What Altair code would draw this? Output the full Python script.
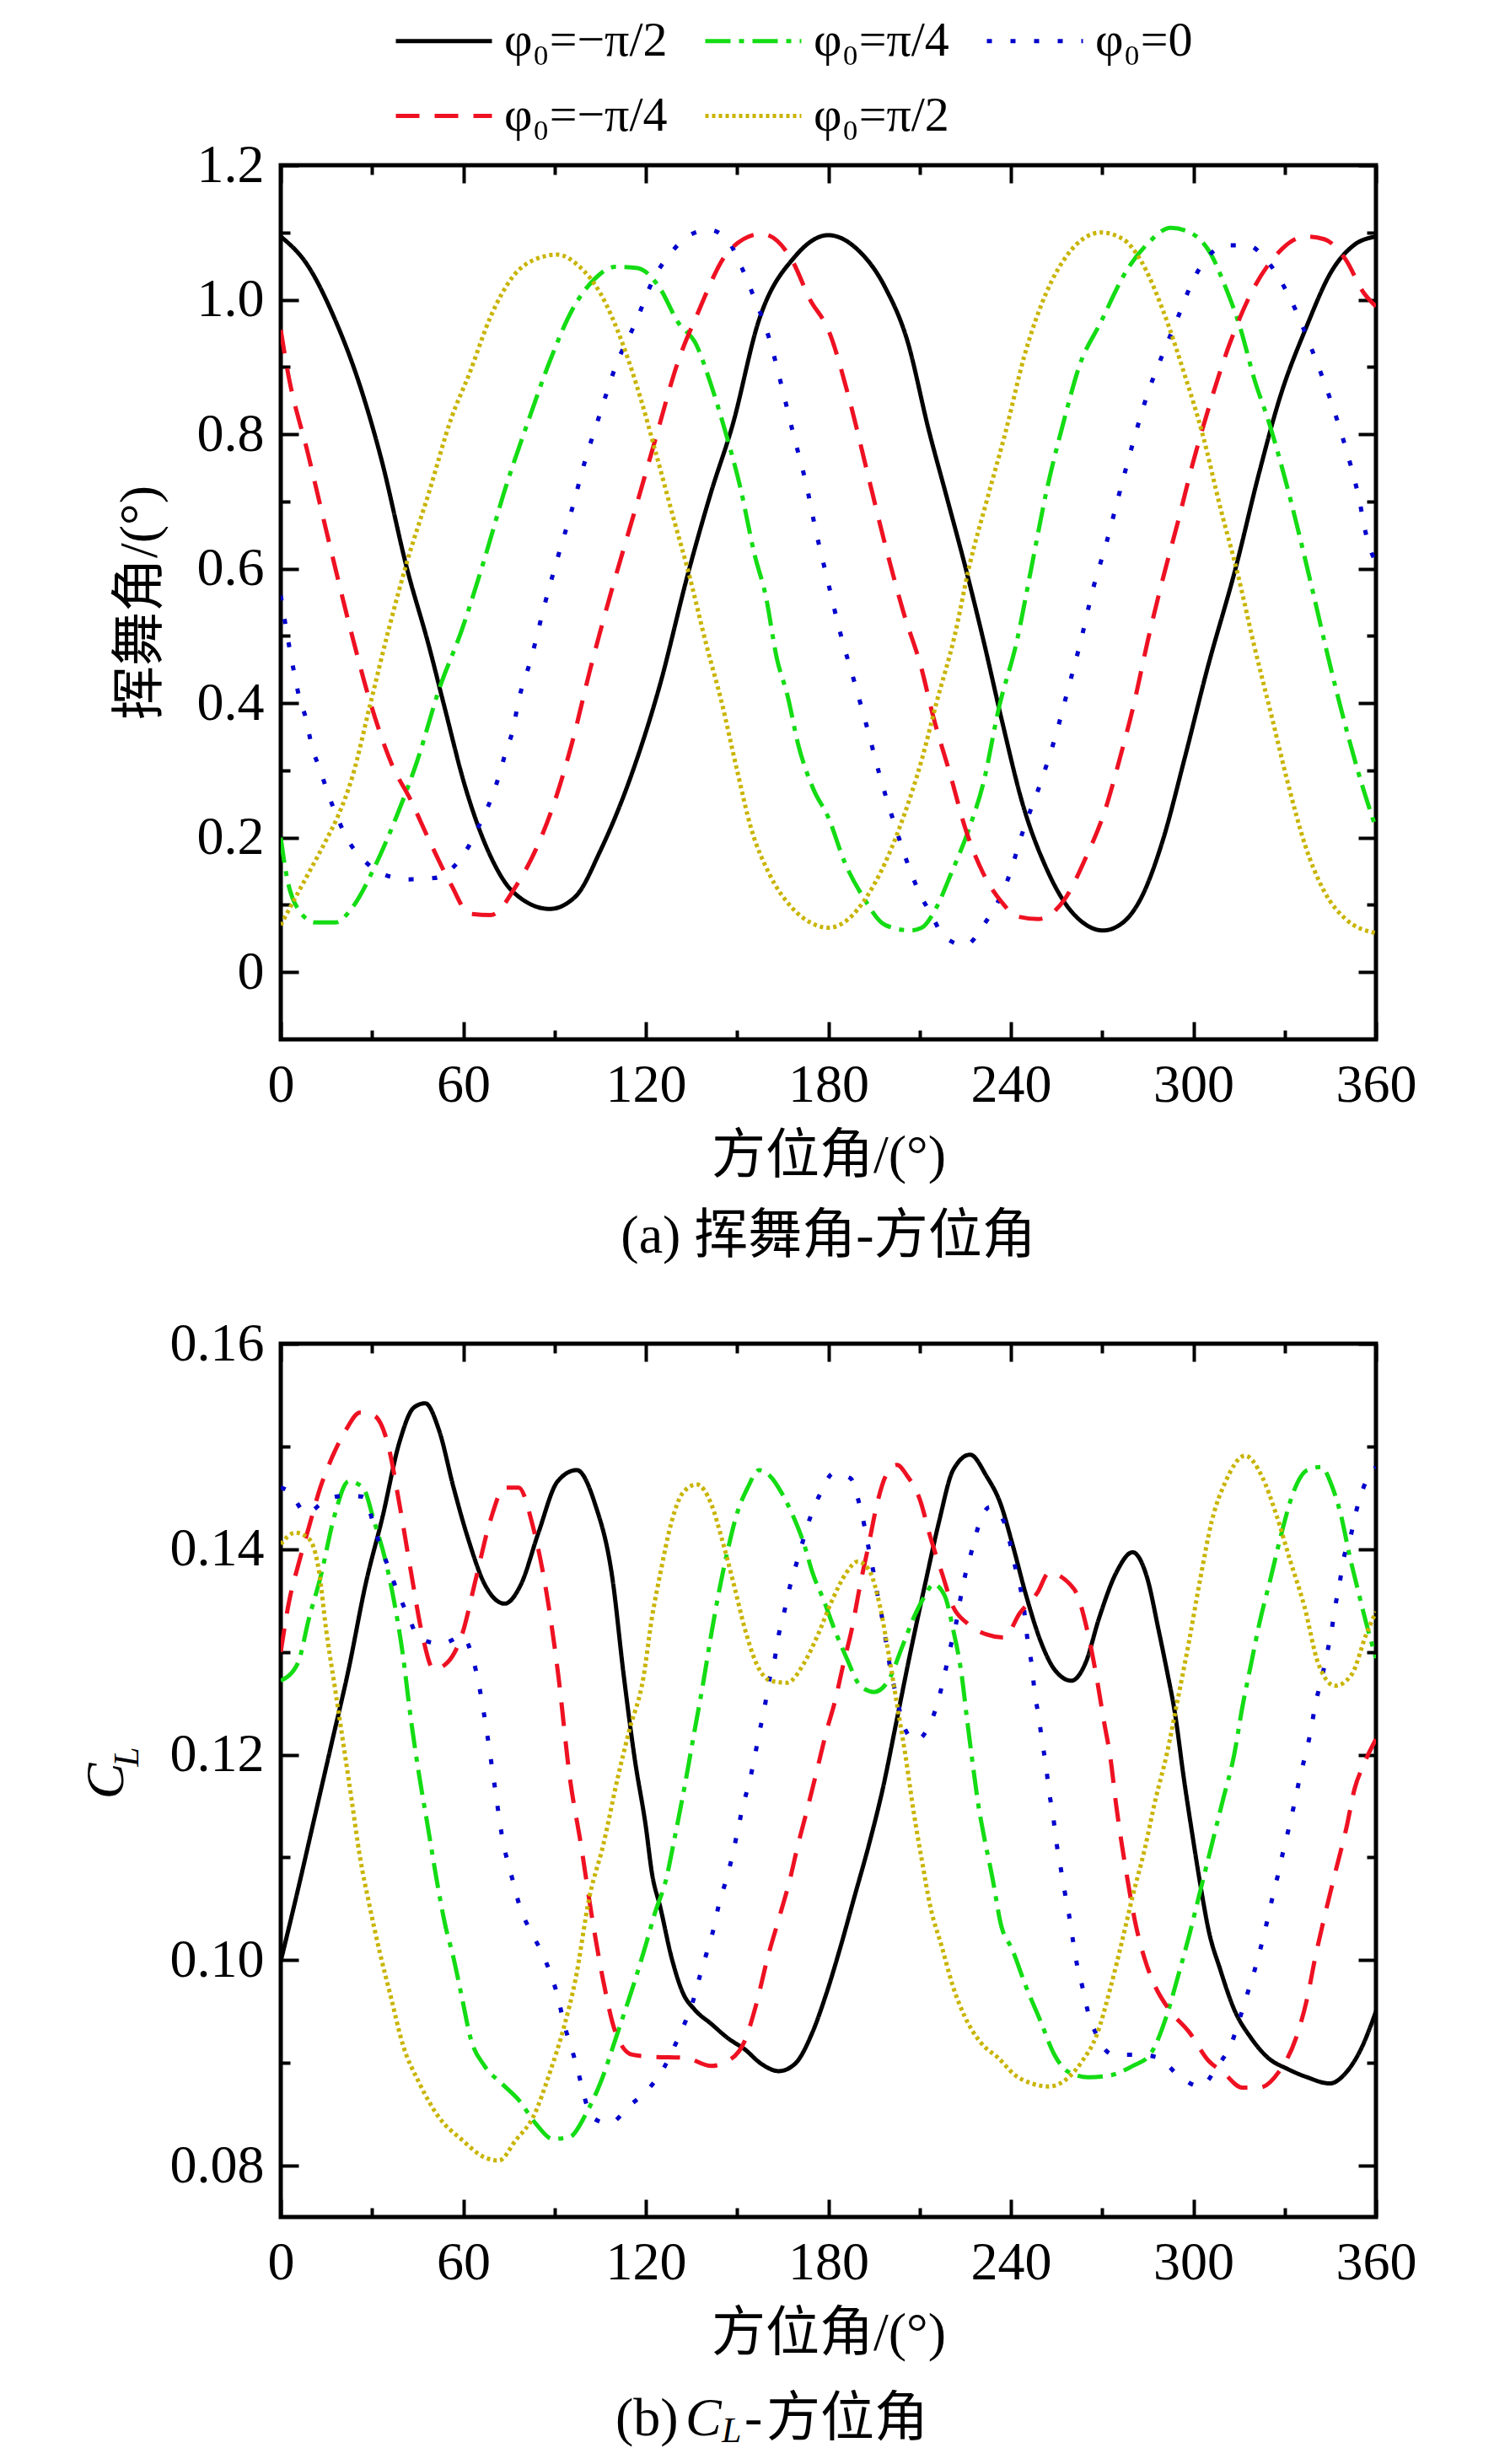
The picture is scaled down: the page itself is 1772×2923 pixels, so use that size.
import altair as alt
import pandas as pd

SERIES = ["φ₀=−π/2", "φ₀=π/4", "φ₀=0", "φ₀=−π/4", "φ₀=π/2"]
COLORS = ["#000000", "#14dc14", "#0000cc", "#ee1122", "#c8b400"]
DASHES = [[1, 0], [30, 10, 6, 10], [6, 22], [28, 18], [4, 4]]
# legend is filled column by column: column 1 = −π/2, −π/4; column 2 = π/4, π/2; column 3 = 0
LEGEND_ORDER = ["φ₀=−π/2", "φ₀=−π/4", "φ₀=π/4", "φ₀=π/2", "φ₀=0"]

X_MAJOR = [0, 60, 120, 180, 240, 300, 360]
X_MINOR = [30, 90, 150, 210, 270, 330]
FLAP_MAJOR = [0, 0.2, 0.4, 0.6, 0.8, 1.0, 1.2]
FLAP_MINOR = [0.1, 0.3, 0.5, 0.7, 0.9, 1.1]
CL_MAJOR = [0.08, 0.10, 0.12, 0.14, 0.16]
CL_MINOR = [0.09, 0.11, 0.13, 0.15]
FLAP_DOMAIN = [-0.1, 1.2]
CL_DOMAIN = [0.075, 0.16]

X_TITLE = "方位角/(°)"
FLAP_TITLE = "挥舞角/(°)"
SUB_A = "(a) 挥舞角-方位角"
SUB_B = ["(b)", "C", "L", "-", "方位角"]

# ---- (a) flapping angle vs azimuth: (azimuth deg, value) ----
FLAP_M90 = [(0, 1.094), (9, 1.05), (17.4, 0.975), (25.9, 0.874), (33, 0.764), (41.5, 0.60),
            (48.7, 0.485), (53.5, 0.40), (60.8, 0.273), (69, 0.172), (76, 0.121), (88.4, 0.094),
            (97, 0.113), (105, 0.18), (115, 0.29), (124.5, 0.425), (134, 0.595), (141.4, 0.713),
            (148.6, 0.815), (157, 0.967), (169, 1.064), (180, 1.096), (189, 1.077), (198.7, 1.018),
            (205.9, 0.94), (213, 0.806), (219, 0.705), (225, 0.603), (231, 0.493), (237, 0.375),
            (244, 0.248), (251.6, 0.155), (257.6, 0.104), (263.6, 0.074), (270.3, 0.062),
            (276.9, 0.074), (283, 0.112), (290, 0.197), (297, 0.316), (304.5, 0.45), (314, 0.603),
            (321.4, 0.739), (328.6, 0.857), (337, 0.958), (345.5, 1.043), (352.7, 1.081), (360, 1.094)]
FLAP_P45 = [(0, 0.20), (1.8, 0.146), (5.4, 0.096), (11.4, 0.074), (18, 0.074), (23.5, 0.096),
            (30.7, 0.155), (38, 0.231), (45, 0.316), (52, 0.42), (59.6, 0.51), (66.8, 0.612),
            (74, 0.722), (81, 0.815), (88.4, 0.908), (95.7, 0.984), (103, 1.03), (110, 1.049),
            (117.3, 1.047), (124.5, 1.018), (130.5, 0.967), (136.6, 0.933), (141.4, 0.874),
            (146, 0.806), (151, 0.722), (155.8, 0.62), (159.4, 0.56), (163, 0.468), (166.7, 0.409),
            (170, 0.34), (175, 0.273), (180, 0.23), (185.4, 0.163), (191.4, 0.112), (198.7, 0.07),
            (207, 0.062), (210.7, 0.066), (215.5, 0.096), (220.3, 0.146), (226.3, 0.214),
            (231, 0.282), (236, 0.392), (242, 0.493), (246.8, 0.603), (251.6, 0.713),
            (257.6, 0.823), (262.4, 0.90), (269.6, 0.967), (278, 1.043), (285.3, 1.085),
            (292.5, 1.107), (299.7, 1.098), (305.7, 1.068), (310.6, 1.018), (315.4, 0.958),
            (320, 0.882), (325, 0.815), (329.8, 0.739), (334.6, 0.654), (339.5, 0.561),
            (344.3, 0.468), (349, 0.383), (354, 0.30), (360, 0.214)]
FLAP_0 = [(0, 0.56), (1.8, 0.51), (4.2, 0.45), (6, 0.41), (8.4, 0.375), (10, 0.34), (13, 0.30),
          (15.6, 0.265), (18.6, 0.23), (22, 0.197), (27, 0.168), (34, 0.145), (42, 0.138),
          (50.5, 0.14), (56, 0.153), (62, 0.189), (65.6, 0.222), (69, 0.256), (71.6, 0.29),
          (74, 0.328), (76.4, 0.362), (78, 0.40), (82.4, 0.468), (86.6, 0.544), (91, 0.616),
          (95.7, 0.688), (100, 0.76), (104.7, 0.827), (110, 0.90), (116.7, 0.967), (123, 1.035),
          (128, 1.068), (133.6, 1.094), (140.8, 1.104), (147.4, 1.085), (151.6, 1.047),
          (155, 1.01), (160.7, 0.94), (165, 0.865), (168.5, 0.80), (172.7, 0.726), (176, 0.654),
          (180, 0.578), (183.6, 0.51), (188.4, 0.434), (192.6, 0.366), (196.8, 0.294),
          (201.6, 0.222), (207, 0.15), (210, 0.117), (213.7, 0.087), (218, 0.053), (225, 0.04),
          (231, 0.07), (239, 0.138), (244, 0.21), (249.8, 0.282), (254.6, 0.35), (258.8, 0.421),
          (263, 0.493), (267, 0.57), (271.5, 0.64), (275.7, 0.713), (280, 0.785), (284.7, 0.857),
          (290, 0.92), (295, 0.975), (300, 1.03), (305, 1.065), (310.6, 1.081), (317.8, 1.081),
          (323.8, 1.06), (332, 1.0), (339, 0.925), (344.9, 0.853), (349.7, 0.785), (354, 0.713),
          (357.5, 0.637), (360, 0.61)]
FLAP_M45 = [(0, 0.955), (2, 0.90), (9, 0.77), (16, 0.637), (22.9, 0.51), (29.5, 0.40),
            (36.7, 0.307), (42.7, 0.256), (48.7, 0.197), (56, 0.13), (62, 0.087), (69, 0.085),
            (77.6, 0.13), (83.6, 0.18), (89.6, 0.248), (95.7, 0.34), (101.7, 0.45), (108.9, 0.57),
            (116, 0.68), (123, 0.79), (130.6, 0.908), (136.6, 0.975), (147.4, 1.073), (158, 1.098),
            (167.9, 1.06), (174, 1.0), (180, 0.955), (186.6, 0.857), (192.6, 0.747), (198.6, 0.637),
            (204.7, 0.535), (210.7, 0.45), (214.3, 0.383), (220.3, 0.29), (225, 0.214), (231, 0.146),
            (237, 0.104), (242, 0.083), (249, 0.079), (257.6, 0.108), (264.8, 0.172), (270.9, 0.24),
            (275.7, 0.316), (280.5, 0.40), (285, 0.493), (290, 0.586), (295, 0.671), (299.7, 0.755),
            (305.7, 0.849), (311.8, 0.933), (319, 1.01), (326, 1.06), (337, 1.094), (343, 1.09),
            (350, 1.06), (356, 1.01), (360, 0.99)]
FLAP_P90 = [(0, 0.07), (4, 0.104), (9, 0.146), (15, 0.197), (18.6, 0.23), (23.5, 0.29), (29.5, 0.40),
            (35.5, 0.51), (41.5, 0.61), (48.7, 0.713), (56, 0.823), (62, 0.89), (69, 0.975),
            (76.4, 1.035), (83.6, 1.06), (90.9, 1.067), (98, 1.05), (105, 1.01), (112.5, 0.933),
            (118.5, 0.85), (123.3, 0.772), (129.4, 0.67), (134, 0.595), (140, 0.485), (145, 0.40),
            (150, 0.30), (154.6, 0.214), (160.6, 0.146), (168, 0.096), (174, 0.074), (180, 0.066),
            (186.6, 0.079), (192.6, 0.112), (198.7, 0.163), (204.7, 0.231), (210.7, 0.316),
            (215.5, 0.40), (221.5, 0.50), (226.3, 0.603), (232.3, 0.705), (238.4, 0.806),
            (244.4, 0.916), (251.6, 1.01), (258.8, 1.068), (269.6, 1.10), (276.9, 1.09),
            (283, 1.056), (290, 0.984), (297, 0.89), (303, 0.80), (309, 0.688), (314.4, 0.595),
            (320, 0.485), (326, 0.375), (331, 0.282), (336.7, 0.189), (343, 0.12), (350, 0.079),
            (360, 0.058)]

# ---- (b) lift coefficient vs azimuth ----
CL_M90 = [(0, 0.0999), (5.6, 0.1068), (11.2, 0.114), (16.8, 0.1212), (22.3, 0.1283), (27.9, 0.1366),
          (33.5, 0.1432), (39, 0.1504), (43.8, 0.1538), (47.5, 0.1542), (52, 0.1516), (56.8, 0.146),
          (61.5, 0.1411), (67, 0.1366), (73.6, 0.1347), (79, 0.1366), (84.7, 0.1416), (91, 0.1466),
          (97.3, 0.1477), (103.3, 0.1444), (109, 0.1372), (112.7, 0.1278), (116.4, 0.1195),
          (120, 0.113), (122, 0.1085), (124.8, 0.1051), (128.5, 0.1002), (132.2, 0.0968),
          (136, 0.0952), (141.5, 0.0938), (147, 0.0924), (152.6, 0.0913), (158, 0.0899),
          (163.7, 0.0892), (169, 0.0899), (174.8, 0.093), (179.4, 0.0968), (184, 0.1013),
          (188.6, 0.1062), (193.3, 0.1112), (197.9, 0.1167), (202.5, 0.1234), (207, 0.13),
          (211.8, 0.1366), (216.4, 0.1427), (221, 0.1477), (226.6, 0.1492), (232, 0.1471),
          (236.5, 0.1445), (240.5, 0.1405), (245, 0.1355), (249.7, 0.1311), (254.3, 0.1283),
          (259.9, 0.1272), (264.5, 0.1289), (269, 0.1333), (274.6, 0.1377), (280, 0.1397),
          (284.8, 0.1372), (288.5, 0.1322), (291.2, 0.1283), (294, 0.1239), (296.8, 0.1178),
          (299.6, 0.1123), (302.3, 0.1073), (305, 0.1029), (308.8, 0.0991), (313.4, 0.0952),
          (319, 0.0924), (324.5, 0.0905), (331, 0.0894), (337.4, 0.0886), (344.8, 0.088),
          (350.3, 0.0891), (355, 0.0913), (360, 0.095)]
CL_P45 = [(0, 0.1272), (5.6, 0.1289), (9.3, 0.1333), (13, 0.1372), (17.7, 0.1433), (22.3, 0.1466),
          (27, 0.146), (30.7, 0.1427), (34.5, 0.1388), (37.2, 0.135), (40, 0.13), (42.8, 0.1234),
          (45.6, 0.1178), (48.4, 0.1129), (51.2, 0.1079), (54, 0.1035), (56.8, 0.1002),
          (59.6, 0.0963), (62.4, 0.0924), (67, 0.0897), (72.6, 0.088), (78.2, 0.0864),
          (83.8, 0.0841), (89.4, 0.0826), (95, 0.0828), (100.6, 0.0852), (105, 0.088),
          (110.8, 0.093), (116.4, 0.098), (120, 0.1015), (123, 0.1046), (126.7, 0.1079),
          (129.4, 0.1118), (133, 0.1173), (136, 0.1223), (138.7, 0.1267), (141.5, 0.1317),
          (144.2, 0.1361), (147, 0.14), (149.8, 0.1433), (153.5, 0.146), (157.2, 0.1477),
          (160.9, 0.1471), (164.6, 0.1455), (168.3, 0.1433), (172, 0.1405), (174.8, 0.1377),
          (178.5, 0.135), (182, 0.1322), (186, 0.1294), (190.5, 0.1267), (195, 0.1261),
          (199.7, 0.1272), (204.4, 0.1306), (208, 0.1333), (211.8, 0.1355), (214.5, 0.1366),
          (218.2, 0.1355), (221, 0.1322), (223.8, 0.1278), (225.6, 0.1234), (227.5, 0.119),
          (229.3, 0.1151), (231, 0.1123), (234, 0.1079), (236.7, 0.1035), (240.5, 0.101),
          (245, 0.0974), (249.7, 0.0941), (254.3, 0.0908), (259, 0.0891), (265.4, 0.0886),
          (272.8, 0.0888), (280, 0.0897), (285.7, 0.0908), (291.2, 0.0946), (295, 0.0985),
          (298.6, 0.1024), (302.3, 0.1068), (306, 0.1112), (309.7, 0.1156), (313.4, 0.12),
          (316, 0.1245), (319, 0.1289), (321.7, 0.1328), (325.4, 0.1372), (329, 0.1416),
          (332.8, 0.1455), (337.4, 0.1477), (342, 0.148), (345.7, 0.146), (348.5, 0.1433),
          (351.3, 0.1394), (354, 0.1361), (356.8, 0.1328), (360, 0.1294)]
CL_0 = [(0, 0.146), (2.8, 0.1456), (8.4, 0.1435), (14.9, 0.1448), (21, 0.1452), (27, 0.1451),
        (31.7, 0.1412), (35.8, 0.1379), (38.6, 0.1357), (41.9, 0.1335), (45.6, 0.1313), (53, 0.1308),
        (59.6, 0.1315), (63.3, 0.1292), (65.2, 0.1267), (68, 0.1217), (70.3, 0.117), (72.6, 0.1123),
        (76.4, 0.1076), (78.7, 0.1051), (82, 0.1029), (85.7, 0.1008), (88.9, 0.0985), (91.2, 0.0963),
        (93.1, 0.0938), (95.4, 0.0916), (97.8, 0.0891), (99.6, 0.0869), (102.4, 0.0847),
        (108, 0.0841), (114.5, 0.0858), (121, 0.0875), (125.7, 0.0894), (129.4, 0.0916),
        (132.7, 0.0938), (135.5, 0.096), (137.8, 0.0985), (140, 0.1007), (142.4, 0.1032),
        (144, 0.1054), (146.5, 0.1079), (148.4, 0.1101), (150.2, 0.1126), (152, 0.1151),
        (154, 0.1173), (155.8, 0.1198), (157.2, 0.122), (159, 0.1245), (160.4, 0.127),
        (162.3, 0.1292), (163.7, 0.1317), (165.5, 0.1339), (167.4, 0.1364), (169.7, 0.1388),
        (174.3, 0.1433), (177.5, 0.1455), (181.7, 0.1474), (187.3, 0.1469), (190, 0.1446),
        (191.9, 0.1422), (193.3, 0.14), (195, 0.1375), (196.5, 0.135), (198, 0.1328),
        (199.3, 0.1303), (200.7, 0.1278), (202.5, 0.1256), (204.4, 0.1231), (208.5, 0.1214),
        (213.6, 0.1231), (216.4, 0.1256), (218.2, 0.1278), (220, 0.1303), (222, 0.1328),
        (223.3, 0.135), (225, 0.1375), (227, 0.1397), (229.3, 0.1422), (233, 0.1441),
        (237.7, 0.1427), (241.4, 0.1383), (244.2, 0.1344), (245.5, 0.1311), (246.9, 0.1286),
        (247.8, 0.1261), (249.2, 0.1236), (250.2, 0.1214), (251.5, 0.119), (252.5, 0.1165),
        (253.9, 0.114), (254.8, 0.1118), (256.2, 0.1093), (257.6, 0.1068), (259, 0.1046),
        (260.3, 0.1021), (261.7, 0.0996), (263.5, 0.0974), (265.4, 0.0949), (268.2, 0.0927),
        (273.7, 0.0908), (282, 0.0908), (288.5, 0.0905), (295, 0.0888), (302.3, 0.0877),
        (307.9, 0.0897), (312.5, 0.0919), (315.3, 0.0944), (317.6, 0.0966), (319.9, 0.0988),
        (322.2, 0.1013), (324, 0.1035), (325.9, 0.106), (327.7, 0.1082), (329.6, 0.1107),
        (331.4, 0.1129), (333.3, 0.1154), (335, 0.1178), (336.9, 0.1201), (338.7, 0.1225),
        (340, 0.1248), (342, 0.1272), (343.8, 0.1297), (345.3, 0.1319), (346.6, 0.1344),
        (348, 0.1366), (349.4, 0.1391), (351.7, 0.1413), (353.6, 0.1438), (355.9, 0.146),
        (360, 0.148)]
CL_M45 = [(0, 0.130), (2.8, 0.135), (5.6, 0.1383), (9.3, 0.1422), (13, 0.146), (16.8, 0.1489),
          (21.4, 0.1516), (26, 0.1533), (30.7, 0.153), (35.4, 0.15), (39, 0.1444), (42.8, 0.1378),
          (46.5, 0.1317), (50.3, 0.1283), (54.9, 0.129), (59.6, 0.1317), (64.2, 0.1372),
          (68.9, 0.1428), (73.6, 0.146), (78.2, 0.146), (82.9, 0.1422), (87.5, 0.1355),
          (91.2, 0.1278), (95, 0.1178), (98.7, 0.1112), (102.4, 0.104), (106, 0.098), (110, 0.093),
          (115.5, 0.0908), (122, 0.0906), (133, 0.0905), (141.5, 0.0897), (147, 0.0902),
          (152.6, 0.0922), (156.3, 0.0957), (160, 0.1002), (163.7, 0.104), (167.4, 0.1079),
          (170, 0.1112), (172.9, 0.1145), (176.6, 0.1189), (179.4, 0.1223), (182, 0.125),
          (185, 0.1289), (187.7, 0.1322), (190.5, 0.1366), (193.3, 0.1405), (196, 0.1444),
          (198.8, 0.1471), (202.5, 0.1482), (206, 0.1471), (210, 0.1449), (213.7, 0.141),
          (217.3, 0.1377), (221, 0.1344), (225.6, 0.1328), (232, 0.1317), (237.7, 0.1314),
          (243, 0.1338), (248.8, 0.1358), (252.5, 0.1377), (260.8, 0.1361), (265.4, 0.1317),
          (268, 0.1278), (270.5, 0.1234), (272.8, 0.1195), (274.6, 0.1151), (276.5, 0.1112),
          (278.3, 0.1079), (281, 0.1035), (283.9, 0.1002), (287.5, 0.0974), (292, 0.0952),
          (298.6, 0.093), (305, 0.0902), (309.7, 0.0891), (316, 0.0876), (321.7, 0.0876),
          (328, 0.0891), (333.7, 0.0924), (337.4, 0.0963), (340, 0.1002), (342.9, 0.104),
          (346.6, 0.1085), (350.3, 0.1129), (353, 0.1167), (355.9, 0.119), (360, 0.1215)]
CL_P90 = [(0, 0.1405), (4.7, 0.1416), (9.3, 0.141), (12.6, 0.1378), (14.9, 0.1322), (17.7, 0.1267),
          (20.5, 0.1212), (23.3, 0.1156), (26, 0.1101), (28.9, 0.1057), (32.6, 0.1007),
          (36.3, 0.0963), (40, 0.0919), (45.6, 0.088), (52, 0.0847), (59.6, 0.0825), (67, 0.0808),
          (71.7, 0.0805), (77.3, 0.0825), (82.9, 0.0847), (88.5, 0.0891), (93.1, 0.0935),
          (96.8, 0.098), (101.5, 0.1062), (106, 0.1112), (110.8, 0.1178), (114.5, 0.1223),
          (119.2, 0.1275), (122, 0.1333), (124.8, 0.1377), (128.5, 0.1427), (132.2, 0.1455),
          (136.8, 0.1463), (141.5, 0.1444), (145, 0.141), (148.9, 0.1366), (152.6, 0.1322),
          (156.3, 0.1289), (160.9, 0.1272), (166.4, 0.127), (172, 0.1289), (176.6, 0.1317),
          (181.2, 0.135), (185.9, 0.1377), (189.6, 0.1388), (193.3, 0.138), (197, 0.1344),
          (199.7, 0.13), (202.5, 0.125), (205.3, 0.12), (208, 0.1145), (210.8, 0.1096),
          (213.6, 0.1051), (217.3, 0.1013), (221, 0.0974), (224.7, 0.0946), (230.3, 0.0919),
          (235.8, 0.0905), (241.4, 0.0888), (246.9, 0.088), (252.5, 0.0877), (259, 0.0886),
          (263.5, 0.0902), (268.2, 0.0927), (272.8, 0.0974), (276.5, 0.1018), (280, 0.1062),
          (283.9, 0.1107), (287.5, 0.1156), (291.2, 0.12), (295, 0.1256), (298.6, 0.1311),
          (302.3, 0.1372), (306, 0.1427), (310.6, 0.1466), (317, 0.1491), (322.5, 0.1471),
          (327.3, 0.1433), (331.9, 0.1388), (336.5, 0.1344), (341, 0.1289), (346.6, 0.1267),
          (352, 0.1278), (356.8, 0.1317), (360, 0.1339)]

FONT = "Liberation Serif, Noto Sans CJK SC"
W, H_A, H_B = 1299, 1037, 1036

COLOR_OF = dict(zip(SERIES, COLORS))
DASH_OF = dict(zip(SERIES, DASHES))


def to_frame(groups):
    rows = []
    for name, pairs in zip(SERIES, groups):
        for a, v in pairs:
            rows.append({"angle": a, "value": v, "series": name})
    return pd.DataFrame(rows)


def tick_axis(orient, values, size, **extra):
    return alt.Axis(orient=orient, values=values, tickSize=size, offset=-size, domain=False,
                    grid=False, tickWidth=4, tickColor="black", **extra)


def text_mark(txt, x, y, size=64, angle=0, style="normal", align="center"):
    return alt.Chart(pd.DataFrame({"t": [txt]})).mark_text(
        font=FONT, fontSize=size, angle=angle, fontStyle=style, align=align,
        baseline="middle", color="black").encode(x=alt.value(x), y=alt.value(y), text="t:N")


def panel(df, ydom, ymajor, yminor, yexpr, ytitle, legend, extras, height):
    xs = alt.Scale(domain=[0, 360], nice=False, zero=False)
    ys = alt.Scale(domain=ydom, nice=False, zero=False)
    color = alt.Color("series:N", legend=legend,
                      scale=alt.Scale(domain=LEGEND_ORDER,
                                      range=[COLOR_OF[s] for s in LEGEND_ORDER]))
    dash = alt.StrokeDash("series:N", legend=legend,
                          scale=alt.Scale(domain=LEGEND_ORDER,
                                          range=[DASH_OF[s] for s in LEGEND_ORDER]))
    xmajor = tick_axis("bottom", X_MAJOR, 21, labels=True, labelPadding=22, labelFlush=False,
                       labelOverlap=False, title=X_TITLE, titlePadding=20)
    yaxis_kw = dict(labels=True, labelPadding=20, labelOverlap=False, labelFlush=False,
                    labelExpr=yexpr)
    if ytitle:
        ymaj = tick_axis("left", ymajor, 21, title=ytitle, titlePadding=35, **yaxis_kw)
    else:
        ymaj = tick_axis("left", ymajor, 21, title=None, **yaxis_kw)
    lines = alt.Chart(df).mark_line(strokeWidth=5, interpolate="monotone", clip=True,
                                    strokeCap="butt").encode(
        x=alt.X("angle:Q", scale=xs, axis=xmajor),
        y=alt.Y("value:Q", scale=ys, axis=ymaj),
        color=color, strokeDash=dash)

    def ghost(xa, ya):
        return alt.Chart(df).mark_point(opacity=0, size=1).encode(
            x=alt.X("angle:Q", scale=xs, axis=xa),
            y=alt.Y("value:Q", scale=ys, axis=ya))

    g1 = ghost(tick_axis("bottom", X_MINOR, 11, labels=False, title=None),
               tick_axis("left", yminor, 11, labels=False, title=None))
    g2 = ghost(tick_axis("top", X_MAJOR, 21, labels=False, title=None),
               tick_axis("right", ymajor, 21, labels=False, title=None))
    g3 = ghost(tick_axis("top", X_MINOR, 11, labels=False, title=None),
               tick_axis("right", yminor, 11, labels=False, title=None))
    return alt.layer(lines, g1, g2, g3, *extras).resolve_axis(
        x="independent", y="independent").properties(width=W, height=height)


legend_a = alt.Legend(orient="none", legendX=134, legendY=-207, columns=3, title=None,
                      symbolType="stroke", symbolSize=12996, symbolStrokeWidth=5,
                      labelFont=FONT, labelFontSize=58, labelColor="black", labelOffset=12,
                      columnPadding=34, rowPadding=-38, padding=0, labelLimit=400)

top = panel(to_frame([FLAP_M90, FLAP_P45, FLAP_0, FLAP_M45, FLAP_P90]), FLAP_DOMAIN,
            FLAP_MAJOR, FLAP_MINOR,
            "datum.value == 0 ? '0' : format(datum.value, '.1f')", FLAP_TITLE, legend_a,
            [text_mark(SUB_A, W / 2, 1271)], H_A)

bottom = panel(to_frame([CL_M90, CL_P45, CL_0, CL_M45, CL_P90]), CL_DOMAIN,
               CL_MAJOR, CL_MINOR, "format(datum.value, '.2f')", None, None,
               [text_mark(SUB_B[1], -206, 519, angle=270, style="italic"),
                text_mark(SUB_B[2], -182, 490, size=42, angle=270, style="italic"),
                text_mark(SUB_B[0], 397, 1276, align="left"),
                text_mark(SUB_B[1], 480, 1276, style="italic", align="left"),
                text_mark(SUB_B[2], 523, 1290, size=42, style="italic", align="left"),
                text_mark(SUB_B[3], 550, 1276, align="left"),
                text_mark(SUB_B[4], 576, 1276, align="left")], H_B)

chart = alt.vconcat(top, bottom, spacing=361, bounds="flush").resolve_scale(
    color="independent", strokeDash="independent").properties(
    padding={"left": 84, "top": -22, "right": 10, "bottom": 10}, background="white"
).configure_view(stroke="black", strokeWidth=5).configure_axis(
    labelFont=FONT, labelFontSize=64, labelColor="black", titleFont=FONT, titleFontSize=64,
    titleFontWeight="normal", titleColor="black")

chart.save("out.html", embed_options={"renderer": "svg", "actions": False})
